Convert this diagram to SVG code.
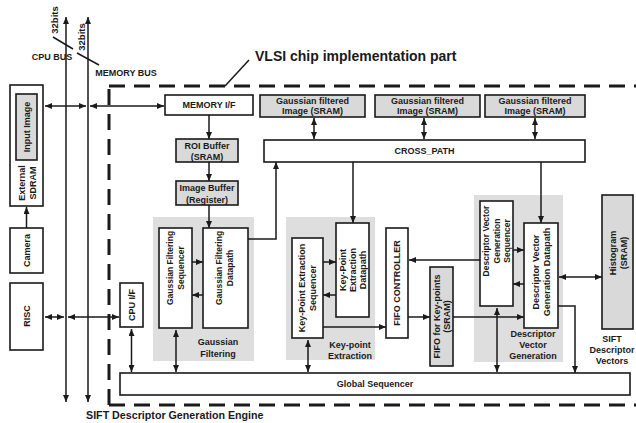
<svg xmlns="http://www.w3.org/2000/svg" width="636" height="423" viewBox="0 0 636 423">
<style>
.box{fill:#fff;stroke:#1a1a1a;stroke-width:1.6}
.gbox{fill:#d9d9d9;stroke:#1a1a1a;stroke-width:1.6}
.region{fill:#dedede}
.t{font-family:"Liberation Sans",Arial,sans-serif;font-weight:bold;font-size:9px;fill:#1a1a1a;text-anchor:middle}
.s8{font-size:8.5px}
.ln{stroke:#1a1a1a;stroke-width:1.5;fill:none}
.a1{marker-end:url(#ah)}
.a2{marker-start:url(#ah);marker-end:url(#ah)}
.dash{stroke:#1a1a1a;stroke-width:3;fill:none;stroke-dasharray:16 9}
</style>
<defs>
<marker id="ah" viewBox="0 0 7 6" refX="7" refY="3" markerWidth="7" markerHeight="6" markerUnits="userSpaceOnUse" orient="auto-start-reverse"><path d="M0,0 L7,3 L0,6 z" fill="#1a1a1a"/></marker>
</defs>

<g id="regions">
<rect class="region" x="153" y="217" width="101" height="144"/>
<rect class="region" x="286" y="217" width="89" height="143"/>
<rect class="region" x="474" y="195" width="89" height="167"/>
</g>

<g id="boundary">
<path class="dash" d="M109,86 H636"/>
<path class="dash" d="M109,405 V86"/>
<path class="dash" d="M109,405 H636"/>
<path class="ln" d="M249,60 L225,86"/>
<text class="t" x="255" y="61" style="font-size:14px;text-anchor:start">VLSI chip implementation part</text>
<text class="t" x="86" y="419" style="font-size:10.7px;text-anchor:start">SIFT Descriptor Generation Engine</text>
</g>

<g id="buses">
<path class="ln a2" d="M66,402 V17"/>
<path class="ln a2" d="M88,402 V17"/>
<path class="ln" d="M53,37 L73,49"/>
<path class="ln" d="M77,53 L99,65"/>
<text class="t" transform="translate(55,20) rotate(-90)" dy="0.35em" style="font-size:9.5px">32bits</text>
<text class="t" transform="translate(82,37) rotate(-90)" dy="0.35em" style="font-size:9.5px">32bits</text>
<text class="t" x="52" y="56.5" dy="0.35em">CPU BUS</text>
<text class="t" x="126" y="72.5" dy="0.35em">MEMORY BUS</text>
</g>

<g id="connectors">
<path class="ln a1" d="M26.5,228 V207"/>
<path class="ln a2" d="M45,106 H86"/>
<path class="ln a2" d="M90,106 H164"/>
<path class="ln a2" d="M45,317 H64"/>
<path class="ln a2" d="M68,317 H119"/>
<path class="ln a2" d="M131.5,329 V372"/>
<path class="ln a1" d="M209,115 V139"/>
<path class="ln a1" d="M209,162 V181"/>
<path class="ln a1" d="M209,205 V228"/>
<path class="ln a1" d="M192,262 H203"/>
<path class="ln a1" d="M203,295 H192"/>
<path class="ln a2" d="M176,330 V372"/>
<path class="ln a1" d="M248,239 H276 V162"/>
<path class="ln a2" d="M314,118 V139"/>
<path class="ln a2" d="M424,118 V139"/>
<path class="ln a2" d="M535,118 V139"/>
<path class="ln a1" d="M323,262 H336"/>
<path class="ln a1" d="M336,295 H323"/>
<path class="ln a1" d="M353,162 V223"/>
<path class="ln a1" d="M323,327 H386"/>
<path class="ln a2" d="M308,340 V372"/>
<path class="ln a1" d="M408,317 H430"/>
<path class="ln a1" d="M453,317 H524"/>
<path class="ln a1" d="M480,260 H409"/>
<path class="ln a1" d="M513,250 H524"/>
<path class="ln a1" d="M524,284 H513"/>
<path class="ln a1" d="M541,162 V223"/>
<path class="ln a2" d="M559,277 H602"/>
<path class="ln a1" d="M558,306 H575 V373"/>
<path class="ln a2" d="M497,308 V372"/>
</g>

<g id="sdram">
<rect class="box" x="10" y="85" width="33" height="121"/>
<rect class="gbox" x="16" y="94" width="21" height="66"/>
<text class="t" transform="translate(26.5,127) rotate(-90)" dy="0.35em">Input Image</text>
<text class="t" transform="translate(26.5,183) rotate(-90)"><tspan x="0" y="-2">External</tspan><tspan x="0" y="9">SDRAM</tspan></text>
</g>
<g id="camera">
<rect class="box" x="10" y="228" width="33" height="45"/>
<text class="t" transform="translate(26.5,250.5) rotate(-90)" dy="0.35em">Camera</text>
</g>
<g id="risc">
<rect class="box" x="10" y="283" width="33" height="67"/>
<text class="t" transform="translate(26.5,316) rotate(-90)" dy="0.35em">RISC</text>
</g>
<g id="cpuif">
<rect class="box" x="120" y="283" width="23" height="44"/>
<text class="t" transform="translate(131.5,305) rotate(-90)" dy="0.35em">CPU I/F</text>
</g>
<g id="globalseq">
<rect class="box" x="120" y="373" width="510" height="22"/>
<text class="t" x="375" y="384" dy="0.35em">Global Sequencer</text>
</g>
<g id="memif">
<rect class="box" x="165" y="95" width="88" height="20"/>
<text class="t" x="209" y="105" dy="0.35em">MEMORY I/F</text>
</g>
<g id="roi">
<rect class="gbox" x="176" y="139" width="62" height="23"/>
<text class="t"><tspan x="207" y="148.5">ROI Buffer</tspan><tspan x="207" y="159.5">(SRAM)</tspan></text>
</g>
<g id="imgbuf">
<rect class="gbox" x="176" y="181" width="62" height="24"/>
<text class="t"><tspan x="207" y="191">Image Buffer</tspan><tspan x="207" y="202.5">(Register)</tspan></text>
</g>
<g id="gfseq">
<rect class="box" x="159" y="228" width="33" height="100"/>
<text class="t s8" transform="translate(175.5,268) rotate(-90)"><tspan x="0" y="-2.5">Gaussian Filtering</tspan><tspan x="0" y="8.5">Sequencer</tspan></text>
</g>
<g id="gfdp">
<rect class="box" x="203" y="228" width="45" height="100"/>
<text class="t s8" transform="translate(224,268) rotate(-90)"><tspan x="0" y="-2.5">Gaussian Filtering</tspan><tspan x="0" y="8.5">Datapath</tspan></text>
</g>
<g id="gflabel">
<text class="t"><tspan x="218" y="345">Gaussian</tspan><tspan x="218" y="357">Filtering</tspan></text>
</g>
<g id="crosspath">
<rect class="box" x="264" y="140" width="321" height="22"/>
<text class="t" x="424.5" y="151" dy="0.35em">CROSS_PATH</text>
</g>
<g id="gfi1">
<rect class="gbox" x="260" y="95" width="105" height="22"/>
<text class="t"><tspan x="312.5" y="104">Gaussian filtered</tspan><tspan x="312.5" y="114">Image (SRAM)</tspan></text>
</g>
<g id="gfi2">
<rect class="gbox" x="375" y="95" width="105" height="22"/>
<text class="t"><tspan x="427.5" y="104">Gaussian filtered</tspan><tspan x="427.5" y="114">Image (SRAM)</tspan></text>
</g>
<g id="gfi3">
<rect class="gbox" x="485" y="95" width="100" height="22"/>
<text class="t"><tspan x="535" y="104">Gaussian filtered</tspan><tspan x="535" y="114">Image (SRAM)</tspan></text>
</g>
<g id="kpseq">
<rect class="box" x="292" y="238" width="31" height="100"/>
<text class="t" transform="translate(307.5,288) rotate(-90)"><tspan x="0" y="-2.5">Key-Point Extraction</tspan><tspan x="0" y="8.5">Sequencer</tspan></text>
</g>
<g id="kpdp">
<rect class="box" x="336" y="223" width="33" height="94"/>
<text class="t" transform="translate(352.5,270) rotate(-90)"><tspan x="0" y="-7">Key-Point</tspan><tspan x="0" y="3">Extraction</tspan><tspan x="0" y="13">Datapath</tspan></text>
</g>
<g id="kplabel">
<text class="t"><tspan x="350" y="348">Key-point</tspan><tspan x="350" y="359">Extraction</tspan></text>
</g>
<g id="fifoctrl">
<rect class="box" x="386" y="228" width="22" height="110"/>
<text class="t" transform="translate(397,283) rotate(-90)" dy="0.35em">FIFO CONTROLLER</text>
</g>
<g id="fifokp">
<rect class="gbox" x="430" y="267" width="23" height="99"/>
<text class="t" transform="translate(441.5,316.5) rotate(-90)"><tspan x="0" y="-2">FIFO for Key-points</tspan><tspan x="0" y="8">(SRAM)</tspan></text>
</g>
<g id="dvseq">
<rect class="box" x="480" y="201" width="33" height="105"/>
<text class="t s8" transform="translate(496.5,241) rotate(-90)"><tspan x="0" y="-7.5">Descriptor Vector</tspan><tspan x="0" y="3">Generation</tspan><tspan x="0" y="13.5">Sequencer</tspan></text>
</g>
<g id="dvdp">
<rect class="box" x="524" y="223" width="34" height="105"/>
<text class="t" transform="translate(541,272) rotate(-90)"><tspan x="0" y="-2.5">Descriptor Vector</tspan><tspan x="0" y="8.5">Generation Datapath</tspan></text>
</g>
<g id="dvlabel">
<text class="t"><tspan x="533" y="337">Descriptor</tspan><tspan x="533" y="348">Vector</tspan><tspan x="533" y="359">Generation</tspan></text>
</g>
<g id="histogram">
<rect class="gbox" x="602" y="195" width="31" height="134"/>
<text class="t" transform="translate(617.5,253) rotate(-90)"><tspan x="0" y="-2">Histogram</tspan><tspan x="0" y="9">(SRAM)</tspan></text>
</g>
<g id="siftlabel">
<text class="t"><tspan x="612" y="342">SIFT</tspan><tspan x="612" y="353">Descriptor</tspan><tspan x="612" y="364">Vectors</tspan></text>
</g>
</svg>
